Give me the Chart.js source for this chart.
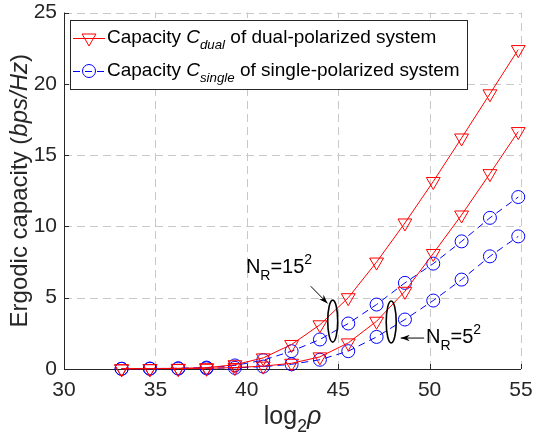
<!DOCTYPE html>
<html>
<head>
<meta charset="utf-8">
<script src="https://cdn.jsdelivr.net/npm/chart.js@4.4.1/dist/chart.umd.min.js"></script>
<style>
  html, body { margin: 0; padding: 0; background: #ffffff; }
  #wrap { width: 533px; height: 439px; position: relative; }
</style>
</head>
<body>
<div id="wrap"><canvas id="c" width="533" height="439"></canvas></div>
<script>
// ---- data ----
const xValues = [33.15, 34.7, 36.25, 37.8, 39.35, 40.9, 42.45, 44.0, 45.55, 47.1, 48.65, 50.2, 51.75, 53.3, 54.85];
const dualNR15   = [0.02, 0.03, 0.05, 0.09, 0.3, 0.78, 1.72, 3.1, 5.0, 7.5, 10.24, 13.15, 16.2, 19.3, 22.4];
const dualNR5    = [0.01, 0.02, 0.03, 0.05, 0.1, 0.2, 0.4, 0.85, 1.83, 3.35, 5.45, 8.1, 10.8, 13.7, 16.65];
const singleNR15 = [0.02, 0.03, 0.05, 0.1, 0.25, 0.62, 1.25, 2.07, 3.19, 4.52, 6.04, 7.39, 8.95, 10.6, 12.06];
const singleNR5  = [0.01, 0.02, 0.03, 0.05, 0.08, 0.17, 0.33, 0.65, 1.25, 2.25, 3.47, 4.8, 6.27, 7.9, 9.3];
const xTicks = [30, 35, 40, 45, 50, 55];
const yTicks = [0, 5, 10, 15, 20, 25];
const legendLabels = [
  [{t: 'Capacity '}, {t: 'C', it: true}, {t: 'dual', it: true, sub: true}, {t: ' of dual-polarized system'}],
  [{t: 'Capacity '}, {t: 'C', it: true}, {t: 'single', it: true, sub: true}, {t: ' of single-polarized system'}]
];
const xTitle = [{t: 'log'}, {t: '2', sub: true}, {t: 'ρ', it: true}];
const yTitle = [{t: 'Ergodic capacity ('}, {t: 'bps/Hz', it: true}, {t: ')'}];
const note15 = [{t: 'N'}, {t: 'R', sub: true}, {t: '=15'}, {t: '2', sup: true}];
const note5  = [{t: 'N'}, {t: 'R', sub: true}, {t: '=5'}, {t: '2', sup: true}];

const FONT = '"Liberation Sans", Arial, Helvetica, sans-serif';
const RED = '#ff0000', BLUE = '#0000ff', AXIS = '#262626', GRID = '#c8c8c8';

const pts = (arr) => arr.map((v, i) => ({x: xValues[i], y: v}));

function dualStyle(arr) {
  return {
    data: pts(arr), borderColor: RED, borderWidth: 1, tension: 0, fill: false,
    pointStyle: 'triangle', rotation: 180, pointRadius: 8, pointHoverRadius: 8,
    pointBorderColor: RED, pointBackgroundColor: 'rgba(0,0,0,0)', pointBorderWidth: 1, clip: false
  };
}
function singleStyle(arr) {
  return {
    data: pts(arr), borderColor: BLUE, borderWidth: 1, borderDash: [7, 5], tension: 0, fill: false,
    pointStyle: 'circle', pointRadius: 6.5, pointHoverRadius: 6.5,
    pointBorderColor: BLUE, pointBackgroundColor: 'rgba(0,0,0,0)', pointBorderWidth: 1, clip: false
  };
}

function richWidth(ctx, parts, size) {
  let w = 0;
  for (const p of parts) {
    const s = (p.sub || p.sup) ? size * 0.7 : size;
    ctx.font = (p.it ? 'italic ' : '') + s + 'px ' + FONT;
    w += ctx.measureText(p.t).width;
  }
  return w;
}
function drawRich(ctx, parts, x, y, size, color) {
  ctx.fillStyle = color || '#000';
  ctx.textBaseline = 'alphabetic';
  ctx.textAlign = 'left';
  let cx = x;
  for (const p of parts) {
    const s = (p.sub || p.sup) ? size * 0.7 : size;
    ctx.font = (p.it ? 'italic ' : '') + s + 'px ' + FONT;
    let dy = 0;
    if (p.sub) dy = size * 0.33;
    if (p.sup) dy = -size * 0.45;
    ctx.fillText(p.t, cx, y + dy);
    cx += ctx.measureText(p.t).width;
  }
  return cx - x;
}
function drawArrow(ctx, x1, y1, x2, y2) {
  ctx.beginPath(); ctx.moveTo(x1, y1); ctx.lineTo(x2, y2); ctx.stroke();
  const ang = Math.atan2(y2 - y1, x2 - x1), L = 9, W = 3.2;
  ctx.beginPath();
  ctx.moveTo(x2, y2);
  ctx.lineTo(x2 - L * Math.cos(ang) + W * Math.sin(ang), y2 - L * Math.sin(ang) - W * Math.cos(ang));
  ctx.lineTo(x2 - L * 0.7 * Math.cos(ang), y2 - L * 0.7 * Math.sin(ang));
  ctx.lineTo(x2 - L * Math.cos(ang) - W * Math.sin(ang), y2 - L * Math.sin(ang) + W * Math.cos(ang));
  ctx.closePath(); ctx.fill();
}

const gridPlugin = {
  id: 'dashGrid',
  beforeDatasetsDraw(chart) {
    const {ctx, chartArea: a, scales: {x, y}} = chart;
    ctx.save();
    ctx.strokeStyle = GRID; ctx.lineWidth = 1; ctx.setLineDash([8, 5]);
    for (const t of xTicks) {
      if (t === xTicks[0]) continue;
      const px = Math.round(x.getPixelForValue(t)) + 0.5;
      ctx.beginPath(); ctx.moveTo(px, a.bottom); ctx.lineTo(px, a.top); ctx.stroke();
    }
    for (const t of yTicks) {
      if (t === yTicks[0]) continue;
      const py = Math.round(y.getPixelForValue(t)) + 0.5;
      ctx.beginPath(); ctx.moveTo(a.left, py); ctx.lineTo(a.right, py); ctx.stroke();
    }
    ctx.setLineDash([]);
    ctx.strokeStyle = AXIS;
    const bx = Math.round(a.left) + 0.5, by = Math.round(a.bottom) + 0.5;
    ctx.beginPath(); ctx.moveTo(bx, a.top); ctx.lineTo(bx, by); ctx.lineTo(a.right, by); ctx.stroke();
    ctx.restore();
  }
};

const decor = {
  id: 'decor',
  afterDraw(chart) {
    const {ctx, chartArea: a, scales: {x, y}} = chart;
    ctx.save();
    ctx.strokeStyle = AXIS; ctx.lineWidth = 1;
    for (const t of xTicks) {
      const px = Math.round(x.getPixelForValue(t)) + 0.5;
      ctx.beginPath(); ctx.moveTo(px, a.bottom); ctx.lineTo(px, a.bottom - 5); ctx.stroke();
    }
    for (const t of yTicks) {
      const py = Math.round(y.getPixelForValue(t)) + 0.5;
      ctx.beginPath(); ctx.moveTo(a.left, py); ctx.lineTo(a.left + 5, py); ctx.stroke();
    }
    // ellipses
    ctx.strokeStyle = '#000'; ctx.lineWidth = 1.6;
    const ell = [[44.7, 3.36], [47.9, 3.3]];
    for (const [ex, ey] of ell) {
      ctx.beginPath();
      ctx.ellipse(x.getPixelForValue(ex), y.getPixelForValue(ey), 5, 21, 0, 0, Math.PI * 2);
      ctx.stroke();
    }
    // arrows
    ctx.fillStyle = '#000'; ctx.lineWidth = 1;
    drawArrow(ctx, x.getPixelForValue(43.5), y.getPixelForValue(5.8), x.getPixelForValue(44.42), y.getPixelForValue(4.6));
    drawArrow(ctx, x.getPixelForValue(49.7), y.getPixelForValue(2.17), x.getPixelForValue(48.42), y.getPixelForValue(2.17));
    // notes
    drawRich(ctx, note15, x.getPixelForValue(39.95), y.getPixelForValue(6.72), 20, '#000');
    drawRich(ctx, note5, x.getPixelForValue(49.8), y.getPixelForValue(1.82), 20, '#000');
    // legend
    const lx = 70, ly = 20, lw = 397, lh = 69;
    ctx.fillStyle = '#fff'; ctx.fillRect(lx, ly, lw, lh);
    ctx.strokeStyle = AXIS; ctx.lineWidth = 1;
    ctx.strokeRect(lx + 0.5, ly + 0.5, lw, lh);
    const rows = [38, 71];
    [chart.data.datasets[0], chart.data.datasets[2]].forEach((ds, i) => {
      const ry = rows[i];
      ctx.save();
      ctx.strokeStyle = ds.borderColor; ctx.lineWidth = 1;
      ctx.setLineDash(ds.borderDash || []);
      ctx.beginPath(); ctx.moveTo(73, ry + 0.5); ctx.lineTo(105, ry + 0.5); ctx.stroke();
      ctx.setLineDash([]);
      ctx.strokeStyle = ds.pointBorderColor;
      ctx.fillStyle = 'rgba(0,0,0,0)';
      Chart.helpers.drawPoint(ctx, {pointStyle: ds.pointStyle, rotation: ds.rotation || 0, radius: ds.pointRadius, borderWidth: 1}, 89, ry);
      ctx.restore();
      drawRich(ctx, legendLabels[i], 107, ry + 4.5, 19, '#000');
    });
    // axis titles
    const xs = 25;
    const xw = richWidth(ctx, xTitle, xs);
    drawRich(ctx, xTitle, (a.left + a.right) / 2 - xw / 2, 424, xs, '#262626');
    ctx.save();
    ctx.translate(27, (a.top + a.bottom) / 2);
    ctx.rotate(-Math.PI / 2);
    const yw = richWidth(ctx, yTitle, 24);
    drawRich(ctx, yTitle, -yw / 2, 0, 24, '#262626');
    ctx.restore();
    ctx.restore();
  }
};

new Chart(document.getElementById('c'), {
  type: 'line',
  data: {
    datasets: [dualStyle(dualNR15), dualStyle(dualNR5), singleStyle(singleNR15), singleStyle(singleNR5)]
  },
  options: {
    responsive: false, animation: false, devicePixelRatio: 1,
    layout: {padding: {top: 12.5, right: 12, left: 0, bottom: 0}},
    plugins: {legend: {display: false}, tooltip: {enabled: false}},
    scales: {
      x: {
        type: 'linear', min: 30, max: 55,
        afterBuildTicks: (s) => { s.ticks = xTicks.map(v => ({value: v})); },
        afterFit: (s) => { s.height = 70; s.paddingLeft = 0; s.paddingRight = 0; },
        grid: {display: false, drawTicks: false},
        border: {display: false},
        ticks: {color: '#262626', font: {family: FONT, size: 21, lineHeight: 1}, padding: 11, maxRotation: 0}
      },
      y: {
        type: 'linear', min: 0, max: 25,
        afterBuildTicks: (s) => { s.ticks = yTicks.map(v => ({value: v})); },
        afterFit: (s) => { s.width = 64; s.paddingTop = 0; s.paddingBottom = 0; },
        grid: {display: false, drawTicks: false},
        border: {display: false},
        ticks: {color: '#262626', font: {family: FONT, size: 21, lineHeight: 1}, padding: 7}
      }
    }
  },
  plugins: [gridPlugin, decor]
});
</script>
</body>
</html>
